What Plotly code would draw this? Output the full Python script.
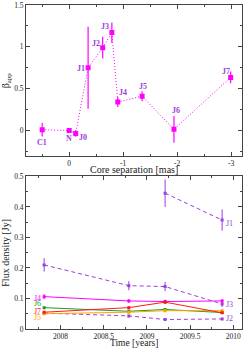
import plotly.graph_objects as go

# ---- Top panel data ----
comp_names = ["C1", "N", "J0", "J1", "J2", "J3", "J4", "J5", "J6", "J7"]
core_sep = [0.5, 0.0, -0.12, -0.35, -0.62, -0.79, -0.90, -1.35, -1.94, -2.99]
beta_app = [0.01, 0.0, -0.035, 0.75, 0.99, 1.17, 0.34, 0.41, 0.015, 0.635]
beta_err = [0.08, 0.0, 0.04, 0.49, 0.13, 0.12, 0.06, 0.06, 0.16, 0.07]
label_x = [0.5, 0.0, -0.26, -0.21, -0.50, -0.66, -1.00, -1.37, -1.98, -2.90]
label_y = [-0.145, -0.09, -0.083, 0.745, 1.035, 1.24, 0.45, 0.525, 0.245, 0.705]

# ---- Bottom panel data ----
epochs = [2007.81, 2008.79, 2009.21, 2009.87]
flux_J1 = [None, None, 0.445, 0.357]
err_J1 = [0, 0, 0.045, 0.035]
flux_J2 = [0.052, 0.043, 0.031, 0.033]
err_J2 = [0.003, 0.003, 0.003, 0.003]
flux_J3 = [0.210, 0.142, 0.139, 0.082]
err_J3 = [0.022, 0.015, 0.015, 0.010]
flux_J4 = [0.106, 0.092, 0.090, 0.092]
err_J4 = [0.008, 0.006, 0.006, 0.006]
flux_J5 = [0.050, 0.055, 0.060, 0.060]
err_J5 = [0.004, 0.004, 0.004, 0.004]
flux_J6 = [0.070, 0.058, 0.064, 0.054]
err_J6 = [0.004, 0.004, 0.004, 0.004]
flux_J7 = [0.055, 0.070, 0.088, 0.053]
err_J7 = [0.004, 0.005, 0.006, 0.004]

PURPLE = "#9a3ee0"
MAGENTA = "#ff00ff"
GREEN = "#1f9a1f"
RED = "#ff1a1a"
ORANGE = "#ffa500"
FONT = "Liberation Serif"

fig = go.Figure()

fig.add_trace(go.Scatter(
    x=core_sep, y=beta_app, mode="lines+markers",
    line=dict(color=MAGENTA, width=1, dash="1px,2px"),
    marker=dict(color=MAGENTA, size=5, symbol="square"),
    error_y=dict(type="data", array=beta_err, color=MAGENTA, thickness=1.2, width=0),
    xaxis="x", yaxis="y", showlegend=False))

for name, lx, ly in zip(comp_names, label_x, label_y):
    fig.add_annotation(x=lx, y=ly, xref="x", yref="y", text="<b>%s</b>" % name,
                       showarrow=False, font=dict(family=FONT, size=8, color=PURPLE))

series = [
    (flux_J1, err_J1, PURPLE, "4px,3px"),
    (flux_J2, err_J2, PURPLE, "4px,3px"),
    (flux_J3, err_J3, PURPLE, "4px,3px"),
    (flux_J4, err_J4, MAGENTA, "solid"),
    (flux_J6, err_J6, GREEN, "solid"),
    (flux_J5, err_J5, ORANGE, "solid"),
    (flux_J7, err_J7, RED, "solid"),
]
for ys, es, col, dash in series:
    fig.add_trace(go.Scatter(
        x=epochs, y=ys, mode="lines+markers",
        line=dict(color=col, width=1, dash=dash),
        marker=dict(color=col, size=3, symbol="square"),
        error_y=dict(type="data", array=es, color=col, thickness=1, width=0),
        xaxis="x2", yaxis="y2", showlegend=False, connectgaps=False))

bottom_labels = [
    ("J1", 2009.95, 0.347, PURPLE),
    ("J3", 2009.95, 0.079, PURPLE),
    ("J2", 2009.95, 0.035, PURPLE),
    ("J4", 2007.73, 0.1015, MAGENTA),
    ("J6", 2007.73, 0.082, GREEN),
    ("J7", 2007.73, 0.058, RED),
    ("J5", 2007.73, 0.038, ORANGE),
]
for name, lx, ly, col in bottom_labels:
    fig.add_annotation(x=lx, y=ly, xref="x2", yref="y2", text=name,
                       showarrow=False, font=dict(family=FONT, size=8, color=col))

axis_common = dict(
    showline=True, linecolor="#444", linewidth=1, mirror="ticks",
    ticks="inside", ticklen=4, tickcolor="#444", showgrid=False, zeroline=False,
    tickfont=dict(family=FONT, size=7.5, color="#222"),
    ticklabeloverflow="allow",
)

fig.update_layout(
    width=244, height=348,
    margin=dict(l=26, r=1, t=2, b=19),
    paper_bgcolor="white", plot_bgcolor="white",
    xaxis=dict(**axis_common, domain=[0, 1], anchor="y", range=[0.8, -3.2],
               tickvals=[0, -1, -2, -3], ticktext=["0", "-1", "-2", "-3"],
               minor=dict(ticks="inside", ticklen=2, dtick=0.5, tick0=0, tickcolor="#444")),
    yaxis=dict(**axis_common, domain=[0.535, 1], anchor="x", range=[-0.3, 1.5],
               tickvals=[0, 0.5, 1, 1.5], ticktext=["0", "0.5", "1", "1.5"],
               minor=dict(ticks="inside", ticklen=2, dtick=0.25, tick0=0, tickcolor="#444")),
    xaxis2=dict(**axis_common, domain=[0, 1], anchor="y2", range=[2007.6, 2010.1],
                tickvals=[2008, 2008.5, 2009, 2009.5, 2010],
                ticktext=["2008", "2008.5", "2009", "2009.5", "2010"],
                minor=dict(ticks="inside", ticklen=2, dtick=0.25, tick0=2008, tickcolor="#444")),
    yaxis2=dict(**axis_common, domain=[0, 0.471], anchor="x2", range=[0, 0.5],
                tickvals=[0, 0.1, 0.2, 0.3, 0.4, 0.5],
                ticktext=["0", "0.1", "0.2", "0.3", "0.4", "0.5"],
                minor=dict(ticks="inside", ticklen=2, dtick=0.05, tick0=0, tickcolor="#444")),
)

# axis titles as annotations
fig.add_annotation(text="Core separation [mas]", xref="paper", yref="paper",
                   x=0.5, y=0.535, yshift=-14, showarrow=False, xanchor="center", yanchor="middle",
                   font=dict(family=FONT, size=10, color="#222"))
fig.add_annotation(text="β<sub>app</sub>", xref="paper", yref="paper",
                   x=0, xshift=-20, y=0.7675, showarrow=False, textangle=-90,
                   xanchor="center", yanchor="middle",
                   font=dict(family=FONT, size=10, color="#222"))
fig.add_annotation(text="Time [years]", xref="paper", yref="paper",
                   x=0.5, y=0, yshift=-14, showarrow=False, xanchor="center", yanchor="middle",
                   font=dict(family=FONT, size=9.5, color="#222"))
fig.add_annotation(text="Flux density [Jy]", xref="paper", yref="paper",
                   x=0, xshift=-20, y=0.2355, showarrow=False, textangle=-90,
                   xanchor="center", yanchor="middle",
                   font=dict(family=FONT, size=10, color="#222"))

fig.write_html("out.html", config={"displayModeBar": False},
               post_script="document.body.style.margin='0';document.body.style.overflow='hidden';")
